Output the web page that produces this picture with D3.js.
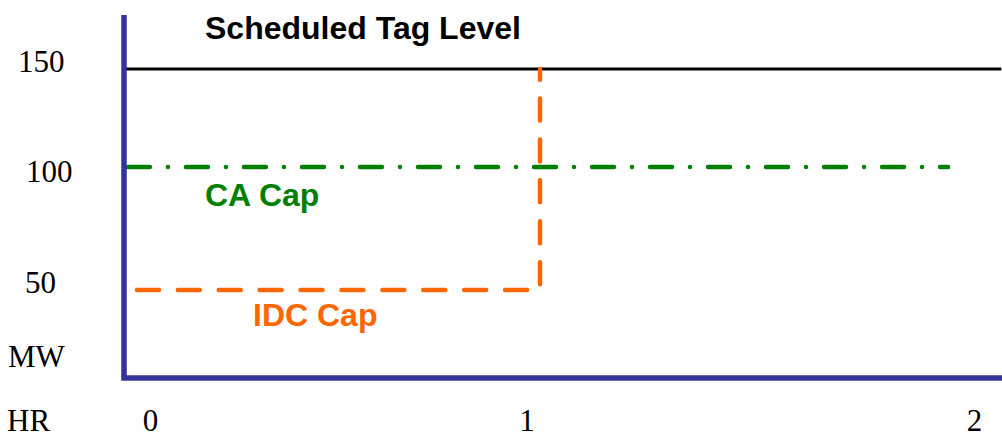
<!DOCTYPE html>
<html>
<head>
<meta charset="utf-8">
<script src="https://cdn.jsdelivr.net/npm/d3@7"></script>
<style>
  html, body { margin: 0; padding: 0; background: #fff; }
  svg { display: block; }
</style>
</head>
<body>
<svg id="chart" width="1002" height="435"></svg>
<script>
// ---- data ----
const xTicks = [0, 1, 2];
const xTickLabels = ["0", "1", "2"];
const yTicks = [150, 100, 50];
const yTickLabels = ["150", "100", "50"];
const xUnitLabel = "HR";
const yUnitLabel = "MW";

// Scheduled Tag Level (flat line)
const schedX = [-0.07, 2.06];
const schedY = [146.4, 146.4];
// CA Cap (dash-dot line)
const caX = [-0.06, 1.941];
const caY = [101.9, 101.9];
// IDC Cap (dashed step)
const idcX = [-0.036, 1.029, 1.029];
const idcY = [46.1, 46.1, 146.4];

const seriesNames = ["Scheduled Tag Level", "CA Cap", "IDC Cap"];

// ---- layout ----
const svg = d3.select("#chart");
const x = d3.scaleLinear().domain([0, 1, 2]).range([150.5, 527, 974.5]);
const y = d3.scaleLinear().domain([50, 150]).range([281.5, 61]);

const axisColor = "#333399";
const axisLeft = 124, axisTop = 15, axisBottom = 378, axisRight = 1002;

const serif = "'Liberation Serif', 'Times New Roman', serif";
const sans = "'Liberation Sans', Arial, Helvetica, sans-serif";

const line = d3.line().x(d => x(d[0])).y(d => y(d[1]));
const zip = (a, b) => a.map((v, i) => [v, b[i]]);

// scheduled tag level
svg.append("path")
  .attr("d", line(zip(schedX, schedY)))
  .attr("fill", "none").attr("stroke", "#000").attr("stroke-width", 3);

// CA cap
svg.append("path")
  .attr("d", line(zip(caX, caY)))
  .attr("fill", "none").attr("stroke", "#008000").attr("stroke-width", 4.5)
  .attr("stroke-linecap", "round")
  .attr("stroke-dasharray", "22,18,0.01,18");

// IDC cap
svg.append("path")
  .attr("d", line(zip(idcX, idcY)))
  .attr("fill", "none").attr("stroke", "#FF6600").attr("stroke-width", 4.5)
  .attr("stroke-linecap", "round").attr("stroke-linejoin", "round")
  .attr("stroke-dasharray", "22,18.9");

// axes frame
svg.append("path")
  .attr("d", `M${axisLeft},${axisTop}V${axisBottom}H${axisRight}`)
  .attr("fill", "none").attr("stroke", axisColor).attr("stroke-width", 5.5)
  .attr("stroke-linejoin", "miter");

// x tick labels
svg.selectAll("text.xt").data(xTicks).enter().append("text")
  .attr("class", "xt")
  .attr("x", d => x(d)).attr("y", 431)
  .attr("text-anchor", "middle")
  .style("font-family", serif).style("font-size", "31px")
  .text((d, i) => xTickLabels[i]);

svg.append("text").attr("x", 7).attr("y", 431)
  .style("font-family", serif).style("font-size", "31px")
  .text(xUnitLabel);

// y tick labels
const yLabelX = [18, 26, 25];
svg.selectAll("text.yt").data(yTicks).enter().append("text")
  .attr("class", "yt")
  .attr("x", (d, i) => yLabelX[i]).attr("y", d => y(d) + 11)
  .style("font-family", serif).style("font-size", "31px")
  .text((d, i) => yTickLabels[i]);

svg.append("text").attr("x", 8).attr("y", 367)
  .style("font-family", serif).style("font-size", "31px")
  .text(yUnitLabel);

// series labels
const labelPos = [[205, 39, "#000"], [205, 206, "#008000"], [253, 326, "#FF6600"]];
seriesNames.forEach((name, i) => {
  svg.append("text")
    .attr("x", labelPos[i][0]).attr("y", labelPos[i][1])
    .attr("fill", labelPos[i][2])
    .style("font-family", sans).style("font-weight", "bold").style("font-size", "32px")
    .text(name);
});
</script>
</body>
</html>
